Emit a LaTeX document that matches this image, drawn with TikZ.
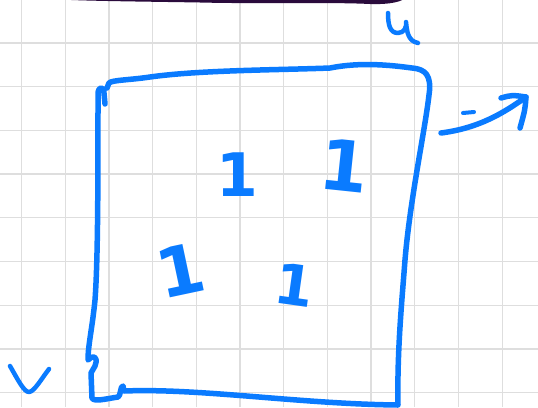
\documentclass[tikz,border=0pt]{standalone}
\usepackage{fontspec}
\newfontfamily\penfont{DejaVu Sans}
\usepackage{xcolor}
\usetikzlibrary{positioning, arrows.meta, calc}
\definecolor{penblue}{HTML}{0A7BFF}
\definecolor{gridgray}{HTML}{DEDEDE}
\definecolor{barpurple}{HTML}{2A0B3C}

\begin{document}
\begin{tikzpicture}[x=1pt, y=-1pt,
    pen/.style={draw=penblue, line width=5.5pt, line cap=round, line join=round},
    digit/.style={text=penblue, inner sep=0pt, font=\penfont\bfseries\fontsize{60}{60}\selectfont}]
    \useasboundingbox (0,0) rectangle (538,407);
    \fill[white] (0,0) rectangle (538,407);

    % squared paper
    \foreach \i in {0,...,11}
        \draw[gridgray, line width=1.3pt] ({21.5+43.7*\i},0) -- ({21.5+43.7*\i},407);
    \foreach \j in {0,...,8}
        \draw[gridgray, line width=1.3pt] (0,{43+43.7*\j}) -- (538,{43+43.7*\j});

    % dark strip along the top
    \fill[barpurple] (52,-1) -- (404,-1) .. controls (398,3) and (385,4.5) .. (370,4)
        .. controls (330,2) and (260,4) .. (200,2.5) .. controls (140,1.5) and (80,1) .. (52,-1) -- cycle;

    % the square
    \draw[pen] (105,104) -- (104,93) .. controls (104,86) and (98,86) .. (98,94)
        .. controls (98,180) and (98,260) .. (95,300)
        .. controls (92,330) and (88,345) .. (88,360)
        .. controls (92,355) and (99,355) .. (95,366) -- (91,373) -- (92,398)
        .. controls (94,402) and (105,399) .. (118,397)
        .. controls (121,396) and (120,386) .. (123,386) -- (124,391)
        .. controls (200,388) and (300,404) .. (398,405)
        .. controls (397,350) and (402,300) .. (405,260)
        .. controls (410,200) and (425,130) .. (429,95)
        .. controls (432,75) and (425,69) .. (412,68)
        .. controls (390,65) and (360,62) .. (330,68)
        .. controls (280,70) and (200,70) .. (150,77)
        .. controls (130,80) and (112,80) .. (109,83) -- (107,88);

    % labels u and v
    \draw[pen, line width=4.5pt] (388,13) .. controls (388,25) and (390,33) .. (398,33)
        .. controls (404,33) and (407,27) .. (406,22)
        .. controls (407,32) and (408,41) .. (418,43);
    \draw[pen, line width=4.5pt] (10,366) .. controls (18,380) and (24,392) .. (29,392)
        .. controls (34,392) and (42,378) .. (49,369);

    % entries
    \node[digit] (e11) at (237,175) {1};
    \node[digit, rotate=-6, font=\penfont\bfseries\fontsize{70}{70}\selectfont] (e12) at (344,166) {1};
    \node[digit, rotate=12, font=\penfont\bfseries\fontsize{68}{68}\selectfont] (e21) at (180,270) {1};
    \node[digit, rotate=-8, font=\penfont\bfseries\fontsize{56}{56}\selectfont] (e22) at (295,285) {1};

    % arrow leaving the square
    \coordinate (tail) at (441,133);
    \coordinate (tip) at (526,97);
    \draw[pen, line width=4pt] (463,113) -- (474,112);
    \draw[pen] (tail) .. controls (480,128) and (505,112) .. (tip);
    \draw[pen] (501,98) .. controls (512,95) .. (tip) .. controls (525,110) .. (520,128);
\end{tikzpicture}
\end{document}
